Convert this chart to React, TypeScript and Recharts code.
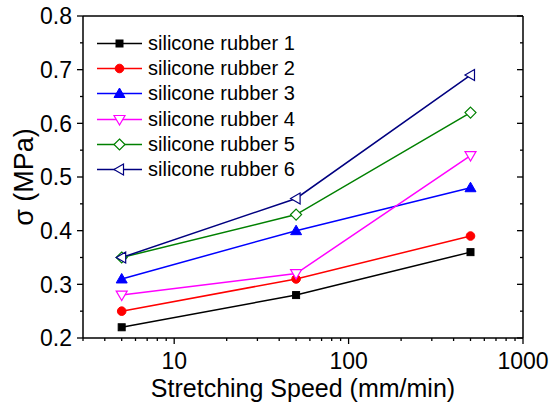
import { LineChart, Line, XAxis, YAxis, Legend } from "recharts";

const speeds = [5, 50, 500];
const rubber1 = [0.22, 0.28, 0.36];
const rubber2 = [0.25, 0.31, 0.39];
const rubber3 = [0.31, 0.4, 0.48];
const rubber4 = [0.28, 0.32, 0.54];
const rubber5 = [0.35, 0.43, 0.62];
const rubber6 = [0.35, 0.46, 0.69];

const xMajorTicks = [10, 100, 1000];
const xTicks = [
  3, 4, 5, 6, 7, 8, 9, 10, 20, 30, 40, 50, 60, 70, 80, 90, 100, 200, 300, 400,
  500, 600, 700, 800, 900, 1000,
];
const yTicks = [0.2, 0.25, 0.3, 0.35, 0.4, 0.45, 0.5, 0.55, 0.6, 0.65, 0.7, 0.75, 0.8];
const yMajorTicks = [0.2, 0.3, 0.4, 0.5, 0.6, 0.7, 0.8];

type Shape = "square" | "circle" | "triUp" | "triDown" | "diamond" | "triLeft";

const series: { key: string; name: string; values: number[]; color: string; shape: Shape }[] = [
  { key: "r1", name: "silicone rubber 1", values: rubber1, color: "#000000", shape: "square" },
  { key: "r2", name: "silicone rubber 2", values: rubber2, color: "#ff0000", shape: "circle" },
  { key: "r3", name: "silicone rubber 3", values: rubber3, color: "#0000ff", shape: "triUp" },
  { key: "r4", name: "silicone rubber 4", values: rubber4, color: "#ff00ff", shape: "triDown" },
  { key: "r5", name: "silicone rubber 5", values: rubber5, color: "#008000", shape: "diamond" },
  { key: "r6", name: "silicone rubber 6", values: rubber6, color: "#000080", shape: "triLeft" },
];

const data = speeds.map((speed, i) => {
  const row: Record<string, number> = { speed };
  series.forEach((s) => {
    row[s.key] = s.values[i];
  });
  return row;
});

const FONT = "'Liberation Sans', Arial, sans-serif";

function Marker({ cx, cy, shape, color }: { cx: number; cy: number; shape: Shape; color: string }) {
  const s = 5.5;
  const open = { fill: "#ffffff", stroke: color, strokeWidth: 1.2 };
  const solid = { fill: color, stroke: color, strokeWidth: 1 };
  switch (shape) {
    case "square":
      return <rect x={cx - 3.5} y={cy - 3.5} width={7} height={7} {...solid} />;
    case "circle":
      return <circle cx={cx} cy={cy} r={4.3} {...solid} />;
    case "triUp":
      return <polygon points={`${cx},${cy - s} ${cx - s},${cy + 4} ${cx + s},${cy + 4}`} {...solid} />;
    case "triDown":
      return <polygon points={`${cx},${cy + s} ${cx - s},${cy - 4} ${cx + s},${cy - 4}`} {...open} />;
    case "diamond":
      return <polygon points={`${cx},${cy - s} ${cx + s},${cy} ${cx},${cy + s} ${cx - s},${cy}`} {...open} />;
    default:
      return <polygon points={`${cx - s},${cy} ${cx + 4},${cy - s} ${cx + 4},${cy + s}`} {...open} />;
  }
}

const isMajorY = (v: number) => yMajorTicks.some((m) => Math.abs(m - v) < 1e-9);

function BottomTick(props: any) {
  const { x, y, payload } = props;
  const major = xMajorTicks.includes(payload.value);
  return (
    <g>
      <line x1={x} y1={y} x2={x} y2={y + (major ? 6 : 3)} stroke="#000" strokeWidth={1.3} />
      {major && (
        <text x={x} y={y + 31} textAnchor="middle" fontSize={23} fontFamily={FONT} fill="#000">
          {payload.value}
        </text>
      )}
    </g>
  );
}

function TopTick(props: any) {
  const { x, y, payload } = props;
  const major = xMajorTicks.includes(payload.value);
  return <line x1={x} y1={y} x2={x} y2={y + (major ? 6 : 3)} stroke="#000" strokeWidth={1.3} />;
}

function LeftTick(props: any) {
  const { x, y, payload } = props;
  const major = isMajorY(payload.value);
  return (
    <g>
      <line x1={x} y1={y} x2={x - (major ? 6 : 3)} y2={y} stroke="#000" strokeWidth={1.3} />
      {major && (
        <text x={x - 11} y={y} dy="0.36em" textAnchor="end" fontSize={23} fontFamily={FONT} fill="#000">
          {payload.value.toFixed(1)}
        </text>
      )}
    </g>
  );
}

function RightTick(props: any) {
  const { x, y, payload } = props;
  const major = isMajorY(payload.value);
  return <line x1={x} y1={y} x2={x - (major ? 6 : 3)} y2={y} stroke="#000" strokeWidth={1.3} />;
}

function LegendBox() {
  return (
    <div style={{ fontFamily: FONT, fontSize: 20, color: "#000" }}>
      {series.map((s) => (
        <div key={s.key} style={{ display: "flex", alignItems: "center", height: 25.2 }}>
          <svg width={50} height={25} style={{ display: "block" }}>
            <line x1={2} y1={12.5} x2={47} y2={12.5} stroke={s.color} strokeWidth={1.5} />
            <Marker cx={24.5} cy={12.5} shape={s.shape} color={s.color} />
          </svg>
          <span style={{ marginLeft: 3, whiteSpace: "nowrap", lineHeight: "25px" }}>{s.name}</span>
        </div>
      ))}
    </div>
  );
}

export default function App() {
  return (
    <div style={{ position: "absolute", left: 0, top: 0, background: "#fff" }}>
      <LineChart width={552} height={409} data={data} margin={{ top: 0, right: 0, bottom: 0, left: 0 }}>
        <XAxis
          xAxisId={0}
          dataKey="speed"
          type="number"
          scale="log"
          domain={[3, 1000]}
          allowDataOverflow
          ticks={xTicks}
          interval={0}
          height={71}
          tickSize={0}
          tickMargin={0}
          tickLine={false}
          axisLine={{ stroke: "#000", strokeWidth: 1.5 }}
          tick={(p: any) => <BottomTick {...p} />}
          label={() => (
            <text x={303} y={397} textAnchor="middle" fontSize={25} fontFamily={FONT} fill="#000">
              Stretching Speed (mm/min)
            </text>
          )}
        />
        <XAxis
          xAxisId="top"
          orientation="top"
          type="number"
          scale="log"
          domain={[3, 1000]}
          allowDataOverflow
          ticks={xTicks}
          interval={0}
          height={16}
          tickSize={0}
          tickMargin={0}
          tickLine={false}
          axisLine={{ stroke: "#000", strokeWidth: 1.5 }}
          tick={(p: any) => <TopTick {...p} />}
        />
        <YAxis
          yAxisId={0}
          type="number"
          domain={[0.2, 0.8]}
          allowDataOverflow
          ticks={yTicks}
          interval={0}
          width={83}
          tickSize={0}
          tickMargin={0}
          tickLine={false}
          axisLine={{ stroke: "#000", strokeWidth: 1.5 }}
          tick={(p: any) => <LeftTick {...p} />}
          label={() => (
            <text
              x={33}
              y={177}
              transform="rotate(-90 33 177)"
              textAnchor="middle"
              fontSize={27}
              fontFamily={FONT}
              fill="#000"
            >
              σ (MPa)
            </text>
          )}
        />
        <YAxis
          yAxisId="right"
          orientation="right"
          type="number"
          domain={[0.2, 0.8]}
          allowDataOverflow
          ticks={yTicks}
          interval={0}
          width={29}
          tickSize={0}
          tickMargin={0}
          tickLine={false}
          axisLine={{ stroke: "#000", strokeWidth: 1.5 }}
          tick={(p: any) => <RightTick {...p} />}
        />
        <Legend
          layout="vertical"
          align="center"
          verticalAlign="middle"
          wrapperStyle={{ left: 95, top: 31, width: 240 }}
          content={() => <LegendBox />}
        />
        {series.map((s) => (
          <Line
            key={s.key}
            xAxisId={0}
            yAxisId={0}
            type="linear"
            dataKey={s.key}
            name={s.name}
            stroke={s.color}
            strokeWidth={1.5}
            isAnimationActive={false}
            dot={(p: any) => <Marker key={`${s.key}-${p.index}`} cx={p.cx} cy={p.cy} shape={s.shape} color={s.color} />}
            activeDot={false}
          />
        ))}
      </LineChart>
    </div>
  );
}
